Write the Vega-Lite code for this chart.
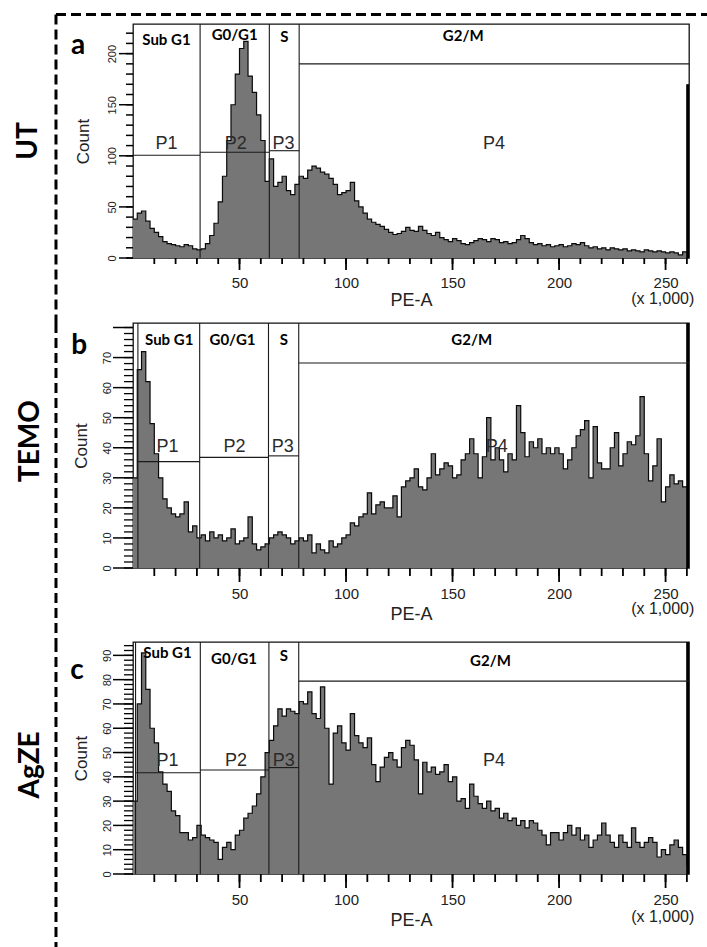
{
  "$schema": "https://vega.github.io/schema/vega-lite/v6.json",
  "padding": {"left": 14, "top": 12, "right": 0, "bottom": 0},
  "background": "white",
  "config": {
    "view": {"stroke": "#111", "strokeWidth": 1.3},
    "font": "Liberation Sans",
    "axis": {"domain": false, "grid": false, "ticks": false, "tickSize": 0, "labelColor": "#222", "labelFlush": false, "labelOverlap": false, "labelBound": false, "titleFontWeight": "normal", "titleColor": "#222", "titleFont": "Liberation Sans", "labelFont": "Liberation Sans"},
    "axisX": {"labelFontSize": 15, "titleFontSize": 18},
    "axisY": {"labelFontSize": 11, "labelAngle": 270, "labelAlign": "center", "labelBaseline": "bottom", "titleFontSize": 17}
  },
  "datasets": {
    "xticks": [{"v":10},{"v":20},{"v":30},{"v":40},{"v":50},{"v":60},{"v":70},{"v":80},{"v":90},{"v":100},{"v":110},{"v":120},{"v":130},{"v":140},{"v":150},{"v":160},{"v":170},{"v":180},{"v":190},{"v":200},{"v":210},{"v":220},{"v":230},{"v":240},{"v":250},{"v":260}],
    "yticksA": [{"v":0},{"v":10},{"v":20},{"v":30},{"v":40},{"v":50},{"v":60},{"v":70},{"v":80},{"v":90},{"v":100},{"v":110},{"v":120},{"v":130},{"v":140},{"v":150},{"v":160},{"v":170},{"v":180},{"v":190},{"v":200},{"v":210},{"v":220}],
    "yticksB": [{"v":0},{"v":2},{"v":4},{"v":6},{"v":8},{"v":10},{"v":12},{"v":14},{"v":16},{"v":18},{"v":20},{"v":22},{"v":24},{"v":26},{"v":28},{"v":30},{"v":32},{"v":34},{"v":36},{"v":38},{"v":40},{"v":42},{"v":44},{"v":46},{"v":48},{"v":50},{"v":52},{"v":54},{"v":56},{"v":58},{"v":60},{"v":62},{"v":64},{"v":66},{"v":68},{"v":70},{"v":72},{"v":74},{"v":76},{"v":78},{"v":80}],
    "yticksC": [{"v":0},{"v":2},{"v":4},{"v":6},{"v":8},{"v":10},{"v":12},{"v":14},{"v":16},{"v":18},{"v":20},{"v":22},{"v":24},{"v":26},{"v":28},{"v":30},{"v":32},{"v":34},{"v":36},{"v":38},{"v":40},{"v":42},{"v":44},{"v":46},{"v":48},{"v":50},{"v":52},{"v":54},{"v":56},{"v":58},{"v":60},{"v":62},{"v":64},{"v":66},{"v":68},{"v":70},{"v":72},{"v":74},{"v":76},{"v":78},{"v":80},{"v":82},{"v":84},{"v":86},{"v":88},{"v":90},{"v":92},{"v":94}],
    "histA": [
      {"pe":0,"count":38},{"pe":2,"count":44},{"pe":4,"count":46},{"pe":6,"count":36},{"pe":8,"count":29},{"pe":10,"count":25},{"pe":12,"count":21},{"pe":14,"count":16},{"pe":16,"count":14},{"pe":18,"count":13},
      {"pe":20,"count":12},{"pe":22,"count":11},{"pe":24,"count":13},{"pe":26,"count":12},{"pe":28,"count":9},{"pe":30,"count":8},{"pe":32,"count":9},{"pe":34,"count":14},{"pe":36,"count":22},{"pe":38,"count":34},
      {"pe":40,"count":55},{"pe":42,"count":80},{"pe":44,"count":115},{"pe":46,"count":150},{"pe":48,"count":180},{"pe":50,"count":205},{"pe":52,"count":212},{"pe":54,"count":178},{"pe":56,"count":162},{"pe":58,"count":140},
      {"pe":60,"count":115},{"pe":62,"count":75},{"pe":64,"count":97},{"pe":66,"count":70},{"pe":68,"count":74},{"pe":70,"count":80},{"pe":72,"count":66},{"pe":74,"count":62},{"pe":76,"count":72},{"pe":78,"count":80},
      {"pe":80,"count":78},{"pe":82,"count":86},{"pe":84,"count":90},{"pe":86,"count":88},{"pe":88,"count":84},{"pe":90,"count":82},{"pe":92,"count":78},{"pe":94,"count":72},{"pe":96,"count":62},{"pe":98,"count":64},
      {"pe":100,"count":66},{"pe":102,"count":74},{"pe":104,"count":56},{"pe":106,"count":50},{"pe":108,"count":44},{"pe":110,"count":38},{"pe":112,"count":35},{"pe":114,"count":33},{"pe":116,"count":31},{"pe":118,"count":28},
      {"pe":120,"count":25},{"pe":122,"count":23},{"pe":124,"count":24},{"pe":126,"count":26},{"pe":128,"count":30},{"pe":130,"count":27},{"pe":132,"count":26},{"pe":134,"count":31},{"pe":136,"count":27},{"pe":138,"count":24},
      {"pe":140,"count":22},{"pe":142,"count":25},{"pe":144,"count":20},{"pe":146,"count":18},{"pe":148,"count":16},{"pe":150,"count":19},{"pe":152,"count":17},{"pe":154,"count":14},{"pe":156,"count":13},{"pe":158,"count":15},
      {"pe":160,"count":17},{"pe":162,"count":19},{"pe":164,"count":18},{"pe":166,"count":16},{"pe":168,"count":19},{"pe":170,"count":18},{"pe":172,"count":15},{"pe":174,"count":16},{"pe":176,"count":14},{"pe":178,"count":15},
      {"pe":180,"count":18},{"pe":182,"count":22},{"pe":184,"count":19},{"pe":186,"count":15},{"pe":188,"count":13},{"pe":190,"count":14},{"pe":192,"count":12},{"pe":194,"count":13},{"pe":196,"count":11},{"pe":198,"count":12},
      {"pe":200,"count":13},{"pe":202,"count":11},{"pe":204,"count":12},{"pe":206,"count":14},{"pe":208,"count":13},{"pe":210,"count":15},{"pe":212,"count":12},{"pe":214,"count":10},{"pe":216,"count":11},{"pe":218,"count":9},
      {"pe":220,"count":10},{"pe":222,"count":8},{"pe":224,"count":10},{"pe":226,"count":9},{"pe":228,"count":8},{"pe":230,"count":9},{"pe":232,"count":7},{"pe":234,"count":8},{"pe":236,"count":7},{"pe":238,"count":6},
      {"pe":240,"count":8},{"pe":242,"count":7},{"pe":244,"count":6},{"pe":246,"count":7},{"pe":248,"count":6},{"pe":250,"count":5},{"pe":252,"count":6},{"pe":254,"count":5},{"pe":256,"count":3},{"pe":258,"count":6},
      {"pe":260.5,"count":170}
    ],
    "histB": [
      {"pe":0,"count":30},{"pe":2,"count":66},{"pe":4,"count":72},{"pe":6,"count":62},{"pe":8,"count":48},{"pe":10,"count":38},{"pe":12,"count":30},{"pe":14,"count":23},{"pe":16,"count":20},{"pe":18,"count":18},
      {"pe":20,"count":17},{"pe":22,"count":18},{"pe":24,"count":22},{"pe":26,"count":12},{"pe":28,"count":14},{"pe":30,"count":10},{"pe":32,"count":11},{"pe":34,"count":9},{"pe":36,"count":12},{"pe":38,"count":10},
      {"pe":40,"count":11},{"pe":42,"count":9},{"pe":44,"count":10},{"pe":46,"count":13},{"pe":48,"count":8},{"pe":50,"count":9},{"pe":52,"count":10},{"pe":54,"count":17},{"pe":56,"count":8},{"pe":58,"count":6},
      {"pe":60,"count":7},{"pe":62,"count":8},{"pe":64,"count":10},{"pe":66,"count":11},{"pe":68,"count":12},{"pe":70,"count":11},{"pe":72,"count":10},{"pe":74,"count":8},{"pe":76,"count":9},{"pe":78,"count":10},
      {"pe":80,"count":9},{"pe":82,"count":11},{"pe":84,"count":5},{"pe":86,"count":8},{"pe":88,"count":6},{"pe":90,"count":5},{"pe":92,"count":9},{"pe":94,"count":7},{"pe":96,"count":8},{"pe":98,"count":10},
      {"pe":100,"count":11},{"pe":102,"count":15},{"pe":104,"count":14},{"pe":106,"count":17},{"pe":108,"count":18},{"pe":110,"count":25},{"pe":112,"count":18},{"pe":114,"count":21},{"pe":116,"count":22},{"pe":118,"count":20},
      {"pe":120,"count":20},{"pe":122,"count":24},{"pe":124,"count":17},{"pe":126,"count":27},{"pe":128,"count":29},{"pe":130,"count":30},{"pe":132,"count":33},{"pe":134,"count":27},{"pe":136,"count":26},{"pe":138,"count":30},
      {"pe":140,"count":38},{"pe":142,"count":31},{"pe":144,"count":33},{"pe":146,"count":35},{"pe":148,"count":34},{"pe":150,"count":30},{"pe":152,"count":31},{"pe":154,"count":36},{"pe":156,"count":38},{"pe":158,"count":43},
      {"pe":160,"count":38},{"pe":162,"count":30},{"pe":164,"count":37},{"pe":166,"count":50},{"pe":168,"count":36},{"pe":170,"count":40},{"pe":172,"count":36},{"pe":174,"count":32},{"pe":176,"count":38},{"pe":178,"count":36},
      {"pe":180,"count":54},{"pe":182,"count":45},{"pe":184,"count":37},{"pe":186,"count":42},{"pe":188,"count":40},{"pe":190,"count":43},{"pe":192,"count":38},{"pe":194,"count":40},{"pe":196,"count":38},{"pe":198,"count":40},
      {"pe":200,"count":38},{"pe":202,"count":33},{"pe":204,"count":36},{"pe":206,"count":40},{"pe":208,"count":44},{"pe":210,"count":46},{"pe":212,"count":49},{"pe":214,"count":30},{"pe":216,"count":47},{"pe":218,"count":35},
      {"pe":220,"count":33},{"pe":222,"count":33},{"pe":224,"count":40},{"pe":226,"count":45},{"pe":228,"count":34},{"pe":230,"count":38},{"pe":232,"count":42},{"pe":234,"count":41},{"pe":236,"count":44},{"pe":238,"count":57},
      {"pe":240,"count":38},{"pe":242,"count":29},{"pe":244,"count":34},{"pe":246,"count":43},{"pe":248,"count":22},{"pe":250,"count":27},{"pe":252,"count":31},{"pe":254,"count":28},{"pe":256,"count":29},{"pe":258,"count":27},
      {"pe":260.5,"count":100}
    ],
    "histC": [
      {"pe":0,"count":30},{"pe":2,"count":70},{"pe":4,"count":91},{"pe":6,"count":76},{"pe":8,"count":60},{"pe":10,"count":54},{"pe":12,"count":42},{"pe":14,"count":37},{"pe":16,"count":34},{"pe":18,"count":26},
      {"pe":20,"count":24},{"pe":22,"count":17},{"pe":24,"count":17},{"pe":26,"count":14},{"pe":28,"count":15},{"pe":30,"count":20},{"pe":32,"count":16},{"pe":34,"count":15},{"pe":36,"count":14},{"pe":38,"count":13},
      {"pe":40,"count":6},{"pe":42,"count":11},{"pe":44,"count":13},{"pe":46,"count":10},{"pe":48,"count":16},{"pe":50,"count":18},{"pe":52,"count":23},{"pe":54,"count":25},{"pe":56,"count":28},{"pe":58,"count":33},
      {"pe":60,"count":40},{"pe":62,"count":50},{"pe":64,"count":55},{"pe":66,"count":61},{"pe":68,"count":68},{"pe":70,"count":65},{"pe":72,"count":68},{"pe":74,"count":67},{"pe":76,"count":66},{"pe":78,"count":71},
      {"pe":80,"count":70},{"pe":82,"count":75},{"pe":84,"count":66},{"pe":86,"count":64},{"pe":88,"count":77},{"pe":90,"count":60},{"pe":92,"count":37},{"pe":94,"count":58},{"pe":96,"count":61},{"pe":98,"count":54},
      {"pe":100,"count":51},{"pe":102,"count":66},{"pe":104,"count":57},{"pe":106,"count":54},{"pe":108,"count":52},{"pe":110,"count":56},{"pe":112,"count":45},{"pe":114,"count":38},{"pe":116,"count":44},{"pe":118,"count":48},
      {"pe":120,"count":50},{"pe":122,"count":47},{"pe":124,"count":44},{"pe":126,"count":52},{"pe":128,"count":55},{"pe":130,"count":53},{"pe":132,"count":47},{"pe":134,"count":33},{"pe":136,"count":46},{"pe":138,"count":42},
      {"pe":140,"count":44},{"pe":142,"count":41},{"pe":144,"count":42},{"pe":146,"count":45},{"pe":148,"count":38},{"pe":150,"count":40},{"pe":152,"count":30},{"pe":154,"count":31},{"pe":156,"count":27},{"pe":158,"count":37},
      {"pe":160,"count":32},{"pe":162,"count":29},{"pe":164,"count":27},{"pe":166,"count":30},{"pe":168,"count":26},{"pe":170,"count":27},{"pe":172,"count":23},{"pe":174,"count":25},{"pe":176,"count":22},{"pe":178,"count":23},
      {"pe":180,"count":20},{"pe":182,"count":22},{"pe":184,"count":19},{"pe":186,"count":22},{"pe":188,"count":21},{"pe":190,"count":18},{"pe":192,"count":16},{"pe":194,"count":12},{"pe":196,"count":17},{"pe":198,"count":17},
      {"pe":200,"count":14},{"pe":202,"count":17},{"pe":204,"count":20},{"pe":206,"count":16},{"pe":208,"count":19},{"pe":210,"count":14},{"pe":212,"count":16},{"pe":214,"count":11},{"pe":216,"count":14},{"pe":218,"count":16},
      {"pe":220,"count":21},{"pe":222,"count":16},{"pe":224,"count":13},{"pe":226,"count":11},{"pe":228,"count":16},{"pe":230,"count":13},{"pe":232,"count":11},{"pe":234,"count":19},{"pe":236,"count":13},{"pe":238,"count":11},
      {"pe":240,"count":13},{"pe":242,"count":15},{"pe":244,"count":13},{"pe":246,"count":7},{"pe":248,"count":10},{"pe":250,"count":8},{"pe":252,"count":12},{"pe":254,"count":14},{"pe":256,"count":11},{"pe":258,"count":8},
      {"pe":260,"count":4},{"pe":260.5,"count":120}
    ],
    "gates": [
      {"panel":"a","x":31.5,"x2":31.5,"y":0,"y2":229},{"panel":"a","x":64,"x2":64,"y":0,"y2":229},{"panel":"a","x":78,"x2":78,"y":0,"y2":229},
      {"panel":"a","x":0,"x2":31.5,"y":100.5,"y2":100.5},{"panel":"a","x":31.5,"x2":64,"y":103.5,"y2":103.5},{"panel":"a","x":64,"x2":78,"y":105,"y2":105},{"panel":"a","x":78,"x2":261,"y":190,"y2":190},
      {"panel":"b","x":2.3,"x2":2.3,"y":0,"y2":81.5},{"panel":"b","x":31.3,"x2":31.3,"y":0,"y2":81.5},{"panel":"b","x":63.6,"x2":63.6,"y":0,"y2":81.5},{"panel":"b","x":77.8,"x2":77.8,"y":0,"y2":81.5},
      {"panel":"b","x":2.3,"x2":31.3,"y":35.4,"y2":35.4},{"panel":"b","x":31.3,"x2":63.6,"y":36.8,"y2":36.8},{"panel":"b","x":63.6,"x2":77.8,"y":37.3,"y2":37.3},{"panel":"b","x":77.8,"x2":261,"y":68.2,"y2":68.2},
      {"panel":"c","x":1.2,"x2":1.2,"y":0,"y2":95.5},{"panel":"c","x":31.6,"x2":31.6,"y":0,"y2":95.5},{"panel":"c","x":63.8,"x2":63.8,"y":0,"y2":95.5},{"panel":"c","x":77.8,"x2":77.8,"y":0,"y2":95.5},
      {"panel":"c","x":1.2,"x2":31.6,"y":41.7,"y2":41.7},{"panel":"c","x":31.6,"x2":63.8,"y":42.8,"y2":42.8},{"panel":"c","x":63.8,"x2":77.8,"y":43.8,"y2":43.8},{"panel":"c","x":77.8,"x2":261,"y":79.4,"y2":79.4}
    ],
    "labels": [
      {"panel":"a","kind":"phase","label":"Sub G1","x":15.7,"y":213},{"panel":"a","kind":"phase","label":"G0/G1","x":47.7,"y":218},{"panel":"a","kind":"phase","label":"S","x":71,"y":216},{"panel":"a","kind":"phase","label":"G2/M","x":155,"y":217},
      {"panel":"a","kind":"gate","label":"P1","x":15.7,"y":112},{"panel":"a","kind":"gate","label":"P2","x":48.2,"y":112},{"panel":"a","kind":"gate","label":"P3","x":70.7,"y":112},{"panel":"a","kind":"gate","label":"P4","x":169.5,"y":112},
      {"panel":"b","kind":"phase","label":"Sub G1","x":17,"y":75.7},{"panel":"b","kind":"phase","label":"G0/G1","x":46.7,"y":75.7},{"panel":"b","kind":"phase","label":"S","x":70.8,"y":75.7},{"panel":"b","kind":"phase","label":"G2/M","x":159,"y":75.7},
      {"panel":"b","kind":"gate","label":"P1","x":16.2,"y":40.1},{"panel":"b","kind":"gate","label":"P2","x":47.6,"y":40.1},{"panel":"b","kind":"gate","label":"P3","x":70.3,"y":40.1},{"panel":"b","kind":"gate","label":"P4","x":170.8,"y":40.1},
      {"panel":"c","kind":"phase","label":"Sub G1","x":16.2,"y":91},{"panel":"c","kind":"phase","label":"G0/G1","x":47.4,"y":88.5},{"panel":"c","kind":"phase","label":"S","x":70.8,"y":89.7},{"panel":"c","kind":"phase","label":"G2/M","x":167.8,"y":87.7},
      {"panel":"c","kind":"gate","label":"P1","x":16.2,"y":46.5},{"panel":"c","kind":"gate","label":"P2","x":48.3,"y":46.5},{"panel":"c","kind":"gate","label":"P3","x":70.8,"y":46.5},{"panel":"c","kind":"gate","label":"P4","x":169.5,"y":46.5}
    ]
  },
  "spacing": 65,
  "bounds": "flush",
  "vconcat": [
    {
      "width": 556,
      "height": 234,
      "encoding": {
        "x": {"type": "quantitative", "scale": {"domain": [0, 261], "nice": false, "zero": false},
          "axis": {"values": [50,100,150,200,250], "ticks": false, "tickSize": 0, "labelPadding": 17, "title": "PE-A", "titlePadding": 1}},
        "y": {"type": "quantitative", "scale": {"domain": [0, 229], "nice": false},
          "axis": {"values": [0,50,100,150,200], "ticks": false, "tickSize": 0, "labelPadding": 16, "title": "Count", "titlePadding": 14}}
      },
      "layer": [
        {"data": {"name": "histA"}, "mark": {"type": "area", "interpolate": "step-after", "color": "#767676", "clip": true},
         "encoding": {"x": {"field": "pe"}, "y": {"field": "count"}}},
        {"data": {"name": "histA"}, "mark": {"type": "line", "interpolate": "step-after", "color": "#0a0a0a", "strokeWidth": 1.2, "clip": true},
         "encoding": {"x": {"field": "pe"}, "y": {"field": "count"}}},
        {"data": {"name": "histA"}, "transform": [{"filter": "datum.pe > 260"}], "mark": {"type": "rule", "color": "#000", "strokeWidth": 3.5, "clip": true},
         "encoding": {"x": {"field": "pe"}, "y": {"field": "count"}, "y2": {"datum": 0}}},
        {"data": {"name": "gates"}, "transform": [{"filter": "datum.panel === 'a'"}], "mark": {"type": "rule", "color": "#1a1a1a", "strokeWidth": 1.1},
         "encoding": {"x": {"field": "x"}, "x2": {"field": "x2"}, "y": {"field": "y"}, "y2": {"field": "y2"}}},
        {"data": {"name": "xticks"}, "mark": {"type": "rule", "color": "#000", "strokeWidth": 1.8},
         "encoding": {"x": {"field": "v"}, "y": {"datum": 0}, "y2": {"datum": -5.9}}},
        {"data": {"name": "xticks"}, "transform": [{"filter": "datum.v % 50 === 0"}], "mark": {"type": "rule", "color": "#000", "strokeWidth": 1.8},
         "encoding": {"x": {"field": "v"}, "y": {"datum": 0}, "y2": {"datum": -11.7}}},
        {"data": {"name": "yticksA"}, "mark": {"type": "rule", "color": "#000", "strokeWidth": 1.5},
         "encoding": {"y": {"field": "v"}, "x": {"datum": 0}, "x2": {"datum": -3.29}}},
        {"data": {"name": "yticksA"}, "transform": [{"filter": "datum.v % 50 === 0"}], "mark": {"type": "rule", "color": "#000", "strokeWidth": 1.5},
         "encoding": {"y": {"field": "v"}, "x": {"datum": 0}, "x2": {"datum": -6.57}}},
        {"data": {"name": "labels"}, "transform": [{"filter": "datum.panel === 'a' && datum.kind === 'phase'"}],
         "mark": {"type": "text", "font": "Lato", "fontWeight": "bold", "fontSize": 15, "color": "#000", "align": "center", "baseline": "middle"},
         "encoding": {"x": {"field": "x"}, "y": {"field": "y"}, "text": {"field": "label"}}},
        {"data": {"name": "labels"}, "transform": [{"filter": "datum.panel === 'a' && datum.kind === 'gate'"}],
         "mark": {"type": "text", "font": "Liberation Sans", "fontSize": 18, "color": "#2a2a2a", "align": "center", "baseline": "middle"},
         "encoding": {"x": {"field": "x"}, "y": {"field": "y"}, "text": {"field": "label"}}},
        {"data": {"values": [{"t": "a"}]},
         "mark": {"type": "text", "text": "a", "font": "Lato", "fontWeight": "bold", "fontSize": 28, "color": "#000", "align": "center", "baseline": "middle"},
         "encoding": {"x": {"datum": -25.8}, "y": {"datum": 207.5}}},
        {"data": {"values": [{"t": "UT"}]},
         "mark": {"type": "text", "text": "UT", "font": "Lato", "fontWeight": "bold", "fontSize": 28, "color": "#000", "align": "center", "baseline": "middle", "angle": 270},
         "encoding": {"x": {"datum": -48.8}, "y": {"datum": 114.5}}},
        {"data": {"values": [{"t": "u"}]},
         "mark": {"type": "text", "text": "(x 1,000)", "fontSize": 16, "color": "#222", "align": "right", "baseline": "middle"},
         "encoding": {"x": {"datum": 263.5}, "y": {"datum": -40.1}}},
        {"data": {"values": [{"t": "l"}]},
         "mark": {"type": "rule", "color": "#000", "strokeWidth": 3, "strokeDash": [10, 5]},
         "encoding": {"x": {"datum": -36.15}, "y": {"datum": 238.3}, "y2": {"datum": -63.6}}},
        {"data": {"values": [{"t": "t"}]},
         "mark": {"type": "rule", "color": "#000", "strokeWidth": 3, "strokeDash": [10, 5]},
         "encoding": {"x": {"datum": -36.15}, "x2": {"datum": 269.9}, "y": {"datum": 238.3}}}
      ]
    },
    {
      "spacing": 74,
      "bounds": "flush",
      "vconcat": [
        {
          "width": 556,
          "height": 245,
          "encoding": {
            "x": {"type": "quantitative", "scale": {"domain": [0, 261], "nice": false, "zero": false},
              "axis": {"values": [50,100,150,200,250], "ticks": false, "tickSize": 0, "labelPadding": 18, "title": "PE-A", "titlePadding": 4}},
            "y": {"type": "quantitative", "scale": {"domain": [0, 81.5], "nice": false},
              "axis": {"values": [0,10,20,30,40,50,60,70], "ticks": false, "tickSize": 0, "labelPadding": 21, "title": "Count", "titlePadding": 11}}
          },
          "layer": [
            {"data": {"name": "histB"}, "mark": {"type": "area", "interpolate": "step-after", "color": "#767676", "clip": true},
             "encoding": {"x": {"field": "pe"}, "y": {"field": "count"}}},
            {"data": {"name": "histB"}, "mark": {"type": "line", "interpolate": "step-after", "color": "#0a0a0a", "strokeWidth": 1.2, "clip": true},
             "encoding": {"x": {"field": "pe"}, "y": {"field": "count"}}},
            {"data": {"name": "histB"}, "transform": [{"filter": "datum.pe > 260"}], "mark": {"type": "rule", "color": "#000", "strokeWidth": 3.5, "clip": true},
             "encoding": {"x": {"field": "pe"}, "y": {"field": "count"}, "y2": {"datum": 0}}},
            {"data": {"name": "gates"}, "transform": [{"filter": "datum.panel === 'b'"}], "mark": {"type": "rule", "color": "#1a1a1a", "strokeWidth": 1.1},
             "encoding": {"x": {"field": "x"}, "x2": {"field": "x2"}, "y": {"field": "y"}, "y2": {"field": "y2"}}},
            {"data": {"name": "xticks"}, "mark": {"type": "rule", "color": "#000", "strokeWidth": 1.8},
             "encoding": {"x": {"field": "v"}, "y": {"datum": 0}, "y2": {"datum": -2.66}}},
            {"data": {"name": "xticks"}, "transform": [{"filter": "datum.v % 50 === 0"}], "mark": {"type": "rule", "color": "#000", "strokeWidth": 1.8},
             "encoding": {"x": {"field": "v"}, "y": {"datum": 0}, "y2": {"datum": -4.66}}},
            {"data": {"name": "yticksB"}, "mark": {"type": "rule", "color": "#000", "strokeWidth": 1.3},
             "encoding": {"y": {"field": "v"}, "x": {"datum": 0}, "x2": {"datum": -4.22}}},
            {"data": {"name": "yticksB"}, "transform": [{"filter": "datum.v % 10 === 0"}], "mark": {"type": "rule", "color": "#000", "strokeWidth": 1.5},
             "encoding": {"y": {"field": "v"}, "x": {"datum": 0}, "x2": {"datum": -9.39}}},
            {"data": {"name": "labels"}, "transform": [{"filter": "datum.panel === 'b' && datum.kind === 'phase'"}],
             "mark": {"type": "text", "font": "Lato", "fontWeight": "bold", "fontSize": 15, "color": "#000", "align": "center", "baseline": "middle"},
             "encoding": {"x": {"field": "x"}, "y": {"field": "y"}, "text": {"field": "label"}}},
            {"data": {"name": "labels"}, "transform": [{"filter": "datum.panel === 'b' && datum.kind === 'gate'"}],
             "mark": {"type": "text", "font": "Liberation Sans", "fontSize": 18, "color": "#2a2a2a", "align": "center", "baseline": "middle"},
             "encoding": {"x": {"field": "x"}, "y": {"field": "y"}, "text": {"field": "label"}}},
            {"data": {"values": [{"t": "b"}]},
             "mark": {"type": "text", "text": "b", "font": "Lato", "fontWeight": "bold", "fontSize": 28, "color": "#000", "align": "center", "baseline": "middle"},
             "encoding": {"x": {"datum": -25.3}, "y": {"datum": 73.8}}},
            {"data": {"values": [{"t": "TEMO"}]},
             "mark": {"type": "text", "text": "TEMO", "font": "Lato", "fontWeight": "bold", "fontSize": 28, "color": "#000", "align": "center", "baseline": "middle", "angle": 270},
             "encoding": {"x": {"datum": -47.9}, "y": {"datum": 42.2}}},
            {"data": {"values": [{"t": "u"}]},
             "mark": {"type": "text", "text": "(x 1,000)", "fontSize": 16, "color": "#222", "align": "right", "baseline": "middle"},
             "encoding": {"x": {"datum": 263.5}, "y": {"datum": -13.6}}},
            {"data": {"values": [{"t": "l"}]},
             "mark": {"type": "rule", "color": "#000", "strokeWidth": 3, "strokeDash": [10, 5]},
             "encoding": {"x": {"datum": -36.15}, "y": {"datum": 81.5}, "y2": {"datum": -24.6}}}
          ]
        },
        {
          "width": 556,
          "height": 232,
          "encoding": {
            "x": {"type": "quantitative", "scale": {"domain": [0, 261], "nice": false, "zero": false},
              "axis": {"values": [50,100,150,200,250], "ticks": false, "tickSize": 0, "labelPadding": 18, "title": "PE-A", "titlePadding": 4}},
            "y": {"type": "quantitative", "scale": {"domain": [0, 95.5], "nice": false},
              "axis": {"values": [0,10,20,30,40,50,60,70,80,90], "ticks": false, "tickSize": 0, "labelPadding": 21, "title": "Count", "titlePadding": 11}}
          },
          "layer": [
            {"data": {"name": "histC"}, "mark": {"type": "area", "interpolate": "step-after", "color": "#767676", "clip": true},
             "encoding": {"x": {"field": "pe"}, "y": {"field": "count"}}},
            {"data": {"name": "histC"}, "mark": {"type": "line", "interpolate": "step-after", "color": "#0a0a0a", "strokeWidth": 1.2, "clip": true},
             "encoding": {"x": {"field": "pe"}, "y": {"field": "count"}}},
            {"data": {"name": "histC"}, "transform": [{"filter": "datum.pe > 260.2"}], "mark": {"type": "rule", "color": "#000", "strokeWidth": 3.5, "clip": true},
             "encoding": {"x": {"field": "pe"}, "y": {"field": "count"}, "y2": {"datum": 0}}},
            {"data": {"name": "gates"}, "transform": [{"filter": "datum.panel === 'c'"}], "mark": {"type": "rule", "color": "#1a1a1a", "strokeWidth": 1.1},
             "encoding": {"x": {"field": "x"}, "x2": {"field": "x2"}, "y": {"field": "y"}, "y2": {"field": "y2"}}},
            {"data": {"name": "xticks"}, "mark": {"type": "rule", "color": "#000", "strokeWidth": 1.8},
             "encoding": {"x": {"field": "v"}, "y": {"datum": 0}, "y2": {"datum": -3.29}}},
            {"data": {"name": "xticks"}, "transform": [{"filter": "datum.v % 50 === 0"}], "mark": {"type": "rule", "color": "#000", "strokeWidth": 1.8},
             "encoding": {"x": {"field": "v"}, "y": {"datum": 0}, "y2": {"datum": -5.76}}},
            {"data": {"name": "yticksC"}, "mark": {"type": "rule", "color": "#000", "strokeWidth": 1.3},
             "encoding": {"y": {"field": "v"}, "x": {"datum": 0}, "x2": {"datum": -4.22}}},
            {"data": {"name": "yticksC"}, "transform": [{"filter": "datum.v % 10 === 0"}], "mark": {"type": "rule", "color": "#000", "strokeWidth": 1.5},
             "encoding": {"y": {"field": "v"}, "x": {"datum": 0}, "x2": {"datum": -9.39}}},
            {"data": {"name": "labels"}, "transform": [{"filter": "datum.panel === 'c' && datum.kind === 'phase'"}],
             "mark": {"type": "text", "font": "Lato", "fontWeight": "bold", "fontSize": 15, "color": "#000", "align": "center", "baseline": "middle"},
             "encoding": {"x": {"field": "x"}, "y": {"field": "y"}, "text": {"field": "label"}}},
            {"data": {"name": "labels"}, "transform": [{"filter": "datum.panel === 'c' && datum.kind === 'gate'"}],
             "mark": {"type": "text", "font": "Liberation Sans", "fontSize": 18, "color": "#2a2a2a", "align": "center", "baseline": "middle"},
             "encoding": {"x": {"field": "x"}, "y": {"field": "y"}, "text": {"field": "label"}}},
            {"data": {"values": [{"t": "c"}]},
             "mark": {"type": "text", "text": "c", "font": "Lato", "fontWeight": "bold", "fontSize": 28, "color": "#000", "align": "center", "baseline": "middle"},
             "encoding": {"x": {"datum": -26.3}, "y": {"datum": 83.6}}},
            {"data": {"values": [{"t": "AgZE"}]},
             "mark": {"type": "text", "text": "AgZE", "font": "Lato", "fontWeight": "bold", "fontSize": 28, "color": "#000", "align": "center", "baseline": "middle", "angle": 270},
             "encoding": {"x": {"datum": -47.9}, "y": {"datum": 44.9}}},
            {"data": {"values": [{"t": "u"}]},
             "mark": {"type": "text", "text": "(x 1,000)", "fontSize": 16, "color": "#222", "align": "right", "baseline": "middle"},
             "encoding": {"x": {"datum": 263.5}, "y": {"datum": -17.7}}},
            {"data": {"values": [{"t": "l"}]},
             "mark": {"type": "rule", "color": "#000", "strokeWidth": 3, "strokeDash": [10, 5]},
             "encoding": {"x": {"datum": -36.15}, "y": {"datum": 95.5}, "y2": {"datum": -30.5}}}
          ]
        }
      ]
    }
  ]
}
